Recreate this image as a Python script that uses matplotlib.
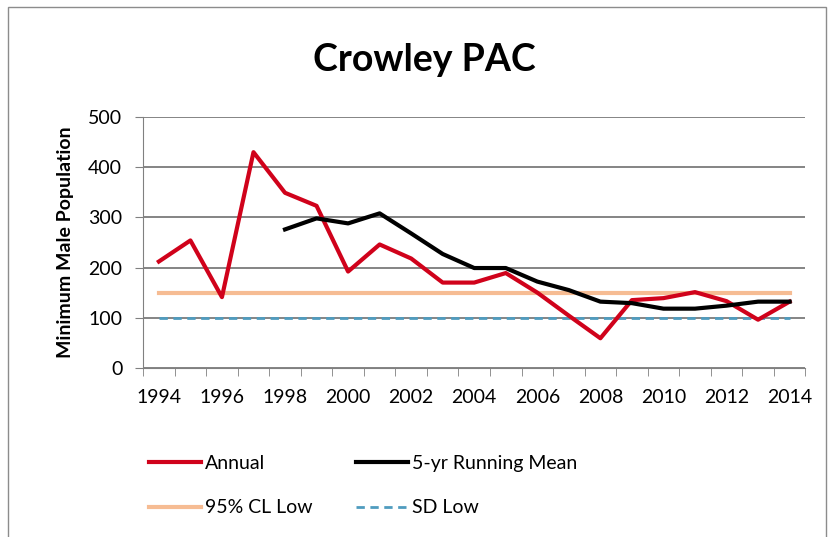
import matplotlib.pyplot as plt
from matplotlib.patches import Rectangle
import numpy as np

plt.rcParams["font.family"] = ["Lato", "DejaVu Sans"]

years = np.arange(1994, 2015)
annual = [212, 254, 141, 430, 349, 323, 192, 246, 218, 170, 170,
          189, 150, 104, 59, 135, 139, 151, 133, 96, 132]
mean_years = np.arange(1998, 2015)
running_mean = [276, 298, 288, 308, 268, 227, 199, 199, 172, 155,
                132, 129, 118, 118, 124, 132, 132]
cl_low = 150
sd_low = 100

fig = plt.figure(figsize=(8.32, 5.37), dpi=100)
ax = fig.add_axes([0.172, 0.315, 0.796, 0.467])

# chart frame
fig.patches.append(Rectangle((8 / 832, -0.1), 818 / 832, 1.1 - 7 / 537,
                             transform=fig.transFigure, fill=False,
                             edgecolor="#8c8c8c", linewidth=1.0))

ax.plot(years, [cl_low] * len(years), color="#f6bc93", linewidth=3,
        label="95% CL Low", zorder=2)
ax.plot(years, [sd_low] * len(years), color="#4f9cbf", linewidth=2,
        linestyle=(0, (3, 2)), label="SD Low", zorder=2)
ax.plot(years, annual, color="#d0021b", linewidth=3, label="Annual", zorder=3)
ax.plot(mean_years, running_mean, color="black", linewidth=3,
        label="5-yr Running Mean", zorder=4)

ax.set_xlim(1993.5, 2014.5)
ax.set_ylim(0, 500)
ax.set_yticks(range(0, 501, 100))
ax.set_xticks(range(1994, 2015, 2))
ax.set_xticks(np.arange(1993.5, 2015, 1), minor=True)
ax.tick_params(axis="x", which="major", length=0, labelsize=14, pad=15)
ax.tick_params(axis="x", which="minor", length=6, color="#808080")
ax.tick_params(axis="y", length=6, color="#808080", labelsize=14, pad=9)
ax.grid(axis="y", color="#707070", linewidth=1.2)
ax.set_axisbelow(True)
for side in ["top", "right"]:
    ax.spines[side].set_visible(False)
for side in ["left", "bottom"]:
    ax.spines[side].set_color("#808080")

ax.set_ylabel("Minimum Male Population", fontsize=14, fontweight="bold",
              labelpad=10)
fig.text(0.51, 0.888, "Crowley PAC", fontsize=27, fontweight="bold",
         ha="center", va="center")

handles, labels = ax.get_legend_handles_labels()
order = [2, 0, 3, 1]
leg = fig.legend([handles[i] for i in order], [labels[i] for i in order],
                 ncol=2, loc="upper left", bbox_to_anchor=(0.158, 0.185),
                 frameon=False, fontsize=14, handlelength=2.7,
                 handletextpad=0.2, columnspacing=2.2, labelspacing=1.4)

fig.savefig("out.png", dpi=100)
